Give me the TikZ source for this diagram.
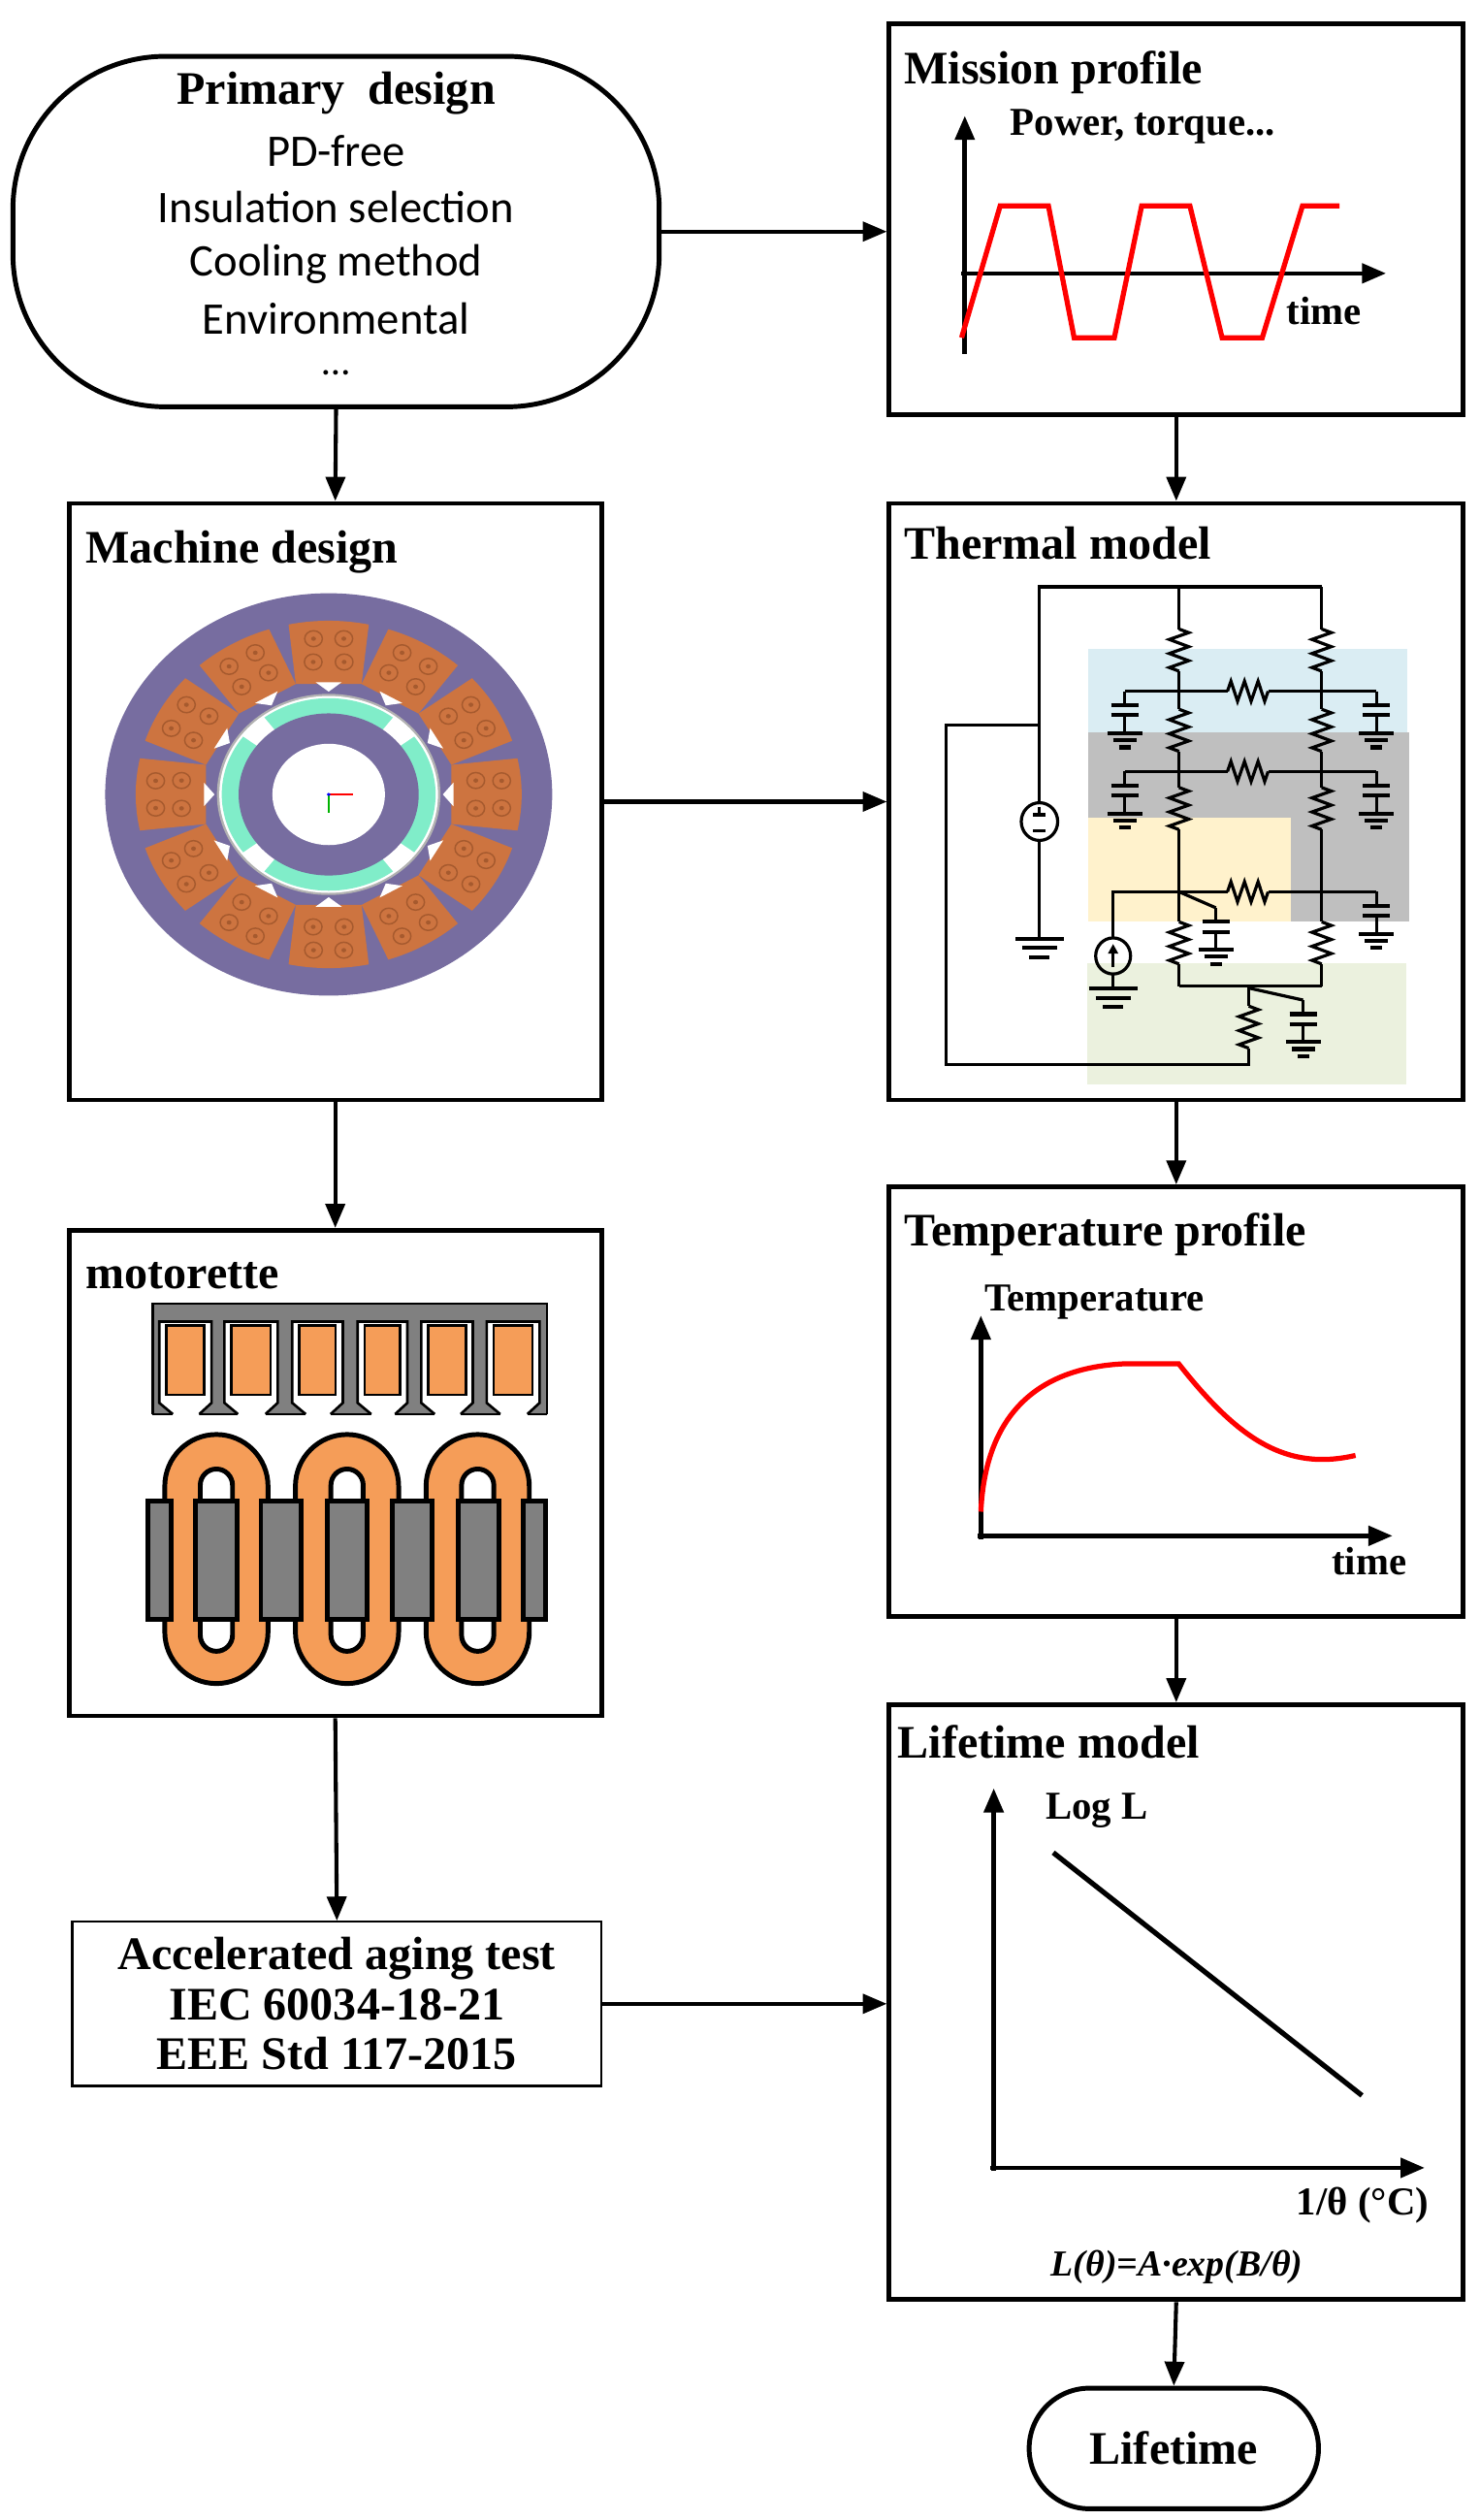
\documentclass[tikz,border=0pt]{standalone}
\usepackage{fontspec}
\setmainfont{Liberation Serif}
\newfontfamily\carl{Carlito}
\usetikzlibrary{arrows.meta}
\definecolor{purp}{HTML}{776DA0}
\definecolor{coil}{HTML}{CD7440}
\definecolor{coild}{HTML}{A65A2E}
\definecolor{teal}{HTML}{80EDC9}
\definecolor{morg}{HTML}{F59D58}
\definecolor{cblue}{HTML}{DAEDF3}
\definecolor{cgray}{HTML}{BFBFBF}
\definecolor{cyell}{HTML}{FFF2CC}
\definecolor{cgreen}{HTML}{EBF1DE}
\newcommand\vres[2]{\draw (#1,#2) -- ++(25,9) -- ++(-50,17) -- ++(50,18) -- ++(-50,17) -- ++(50,18) -- ++(-50,17) -- ++(25,9);}
\newcommand\hres[2]{\draw (#1,#2) -- ++(9,-25) -- ++(17,50) -- ++(18,-50) -- ++(17,50) -- ++(18,-50) -- ++(17,50) -- ++(9,-25);}
\newcommand\capg[2]{\begin{scope}[shift={(#1,#2)}]
\draw (0,0) -- (0,35) (0,60) -- (0,105);
\draw[line width=1.4pt] (-35,35) -- (35,35) (-35,60) -- (35,60);
\draw[line width=1.4pt] (-45,105) -- (45,105) (-30,122) -- (30,122) (-15,140) -- (15,140);
\end{scope}}
\newcommand\gndw[2]{\begin{scope}[shift={(#1,#2)}]
\draw[line width=1.4pt] (-62,0) -- (62,0) (-45,22) -- (45,22) (-26,45) -- (26,45);
\end{scope}}
\tikzset{
  box/.style={draw, line width=1.7pt, rectangle},
  arr/.style={line width=1.4pt, -{Triangle[length=0.3cm,width=0.24cm]}},
  ttl/.style={anchor=base west, font=\fontsize{16.5}{19}\selectfont\bfseries, inner sep=0},
  lbl/.style={anchor=base west, font=\fontsize{14}{16}\selectfont\bfseries, inner sep=0},
  ax/.style={line width=1.6pt, -{Triangle[length=0.3cm,width=0.24cm]}},
  red/.style={draw=red, line width=1.8pt},
}
\begin{document}
\begin{tikzpicture}[x=0.02cm,y=-0.02cm]
\useasboundingbox (0,0) rectangle (920,1567);
% boxes
\node[box, rounded corners=1.9cm, minimum width=8.04cm, minimum height=4.36cm] (prim) at (209,144) {};
\node[box, minimum width=7.14cm, minimum height=4.86cm] (mission) at (731.5,136.5) {};
\node[box, minimum width=6.62cm, minimum height=7.42cm] (machine) at (208.5,498.5) {};
\node[box, minimum width=7.14cm, minimum height=7.42cm] (thermal) at (731.5,498.5) {};
\node[box, minimum width=6.62cm, minimum height=6.04cm] (motor) at (208.5,916) {};
\node[box, minimum width=7.14cm, minimum height=5.34cm] (temp) at (731.5,871.5) {};
\node[box, minimum width=7.14cm, minimum height=7.4cm] (life) at (731.5,1245) {};
\node[draw, line width=0.8pt, minimum width=6.58cm, minimum height=2.04cm, align=center, font=\fontsize{16.5}{17.6}\selectfont\bfseries] (aging) at (209.5,1246) {Accelerated aging test\\IEC 60034-18-21\\EEE Std 117-2015};
\node[box, rounded corners=0.75cm, minimum width=3.6cm, minimum height=1.5cm, font=\fontsize{16.5}{19}\selectfont\bfseries] (lifetime) at (730,1522.5) {Lifetime};
% primary design texts
\node[font=\fontsize{16.5}{19}\selectfont\bfseries] (pt) at (209,58) {Primary\ \ design};
\node[font=\fontsize{16}{18}\selectfont\carl] (p1) at (209,94) {PD-free};
\node[font=\fontsize{16}{18}\selectfont\carl] (p2) at (209,129) {Insulation selection};
\node[font=\fontsize{16}{18}\selectfont\carl] (p3) at (209,164) {Cooling method};
\node[font=\fontsize{16}{18}\selectfont\carl] (p4) at (209,198) {Environmental};
\node[font=\fontsize{14}{16}\selectfont\carl, inner sep=0] (p5) at (209,232) {\dots};
% connectors
\draw[arr] (prim.east) -- (prim.east -| mission.west);
\draw[arr] (prim.south) -- (machine.north);
\draw[arr] (mission.south) -- (thermal.north);
\draw[arr] (machine.east) -- (thermal.west);
\draw[arr] (machine.south) -- (motor.north);
\draw[arr] (thermal.south) -- (temp.north);
\draw[arr] (temp.south) -- (life.north);
\draw[arr] (motor.south) -- (aging.north);
\draw[arr] (aging.east) -- (aging.east -| life.west);
\draw[arr] (life.south) -- (lifetime.north);
% titles
\node[ttl] (t1) at (562,52) {Mission profile};
\node[ttl] (t2) at (53,350) {Machine design};
\node[ttl] (t3) at (562,348) {Thermal model};
\node[ttl] (t4) at (53,801) {motorette};
\node[ttl] (t5) at (562,775) {Temperature profile};
\node[ttl] (t6) at (558,1093) {Lifetime model};
% mission graph
\coordinate (m0) at (600,220); \coordinate (m1) at (600,72);
\coordinate (m2) at (598,170); \coordinate (m3) at (862,170);
\draw[ax] (m0) -- (m1);
\draw[ax] (m2) -- (m3);
\draw[red] (598,210) -- (622,128) -- (652,128) -- (668,210) -- (693,210) -- (710,128) -- (740,128) -- (760,210) -- (785,210) -- (810,128) -- (833,128);
\node[lbl] (pw) at (628,84) {Power, torque...};
\node[lbl] (tm1) at (800,202) {time};
% temperature graph
\coordinate (tp0) at (610,957); \coordinate (tp1) at (610,818);
\coordinate (tp2) at (608,955); \coordinate (tp3) at (866,955);
\draw[ax] (tp0) -- (tp1);
\draw[ax] (tp2) -- (tp3);
\draw[red] (610,940) .. controls (613,875) and (650,850) .. (700,848) -- (733,848) .. controls (770,895) and (800,915) .. (843,905);
\node[lbl] (tt) at (612,815) {Temperature};
\node[lbl] (tm2) at (828,979) {time};
% lifetime graph
\coordinate (l0) at (618,1350); \coordinate (l1) at (618,1112);
\coordinate (l2) at (616,1348); \coordinate (l3) at (886,1348);
\draw[ax] (l0) -- (l1);
\draw[ax] (l2) -- (l3);
\draw[line width=1.8pt] (655,1152) -- (847,1303);
\node[lbl] (ll) at (650,1131) {Log L};
\node[lbl] (lx) at (806,1377) {1/θ (°C)};
\node[font=\fontsize{13}{15}\selectfont\bfseries\itshape] (lf) at (732,1410) {L(θ)=A·exp(B/θ)};
% machine drawing
\begin{scope}[shift={(204.4,494)}, x=0.02cm, y=-0.018cm]
\fill[purp] (0,0) circle[radius=139];
\foreach \t in {0,30,...,330}{
  \fill[coil] (\t-15:79) -- (\t-12:120) arc[start angle=\t-12, end angle=\t+12, radius=120] -- (\t+15:79) -- cycle;
  \foreach \r/\d in {92/-6,92/6,108/-5,108/5}{
    \draw[coild, line width=0.5pt] (\t+\d:\r) circle[radius=5.5];
    \fill[coild] (\t+\d:\r) circle[radius=1.5];
  }
  \fill[white] (\t-6:78) -- (\t+6:78) -- (\t:71) -- cycle;
}
\fill[gray!60] (0,0) circle[radius=69.5];
\fill[white] (0,0) circle[radius=68];
\fill[teal] (0,0) circle[radius=66.5];
\foreach \t in {45,135,225,315}{
  \fill[white] (\t-8:55) -- (\t-8:67) arc[start angle=\t-8, end angle=\t+8, radius=67] -- (\t+8:55) -- cycle;
}
\fill[purp] (0,0) circle[radius=56];
\fill[white] (0,0) circle[radius=35];
\draw[green!70!black, line width=0.6pt] (0,0) -- (0,13);
\draw[red, line width=0.6pt] (0,0) -- (15,0);
\fill[blue] (0,0) circle[radius=1.2];
\end{scope}
% thermal circuit
\begin{scope}[shift={(542.8,302.6)}, x=0.004824cm, y=-0.00499cm, line width=1.1pt]
\fill[cblue] (555,405) rectangle (1380,612);
\fill[cgray] (555,612) rectangle (1385,1085);
\fill[cyell] (555,825) rectangle (1078,1085);
\fill[cgreen] (552,1188) rectangle (1377,1490);
\draw (430,790) -- (430,250) -- (1158,250);
\foreach \x in {790,1158}{
  \draw (\x,250) -- (\x,355) (\x,460) -- (\x,555) (\x,660) -- (\x,750) (\x,855) -- (\x,1085) (\x,1190) -- (\x,1245);
  \vres{\x}{355} \vres{\x}{555} \vres{\x}{750} \vres{\x}{1085}
}
\draw (790,1245) -- (1158,1245);
\foreach \y in {510,710}{
  \draw (650,\y) -- (915,\y) (1020,\y) -- (1300,\y);
  \hres{915}{\y}
  \capg{650}{\y} \capg{1300}{\y}
}
\draw (620,1125) -- (620,1010) -- (915,1010) (1020,1010) -- (1300,1010);
\hres{915}{1010}
\capg{1300}{1010}
\draw (790,1010) -- (885,1050);
\capg{885}{1050}
\draw (970,1245) -- (970,1295) (970,1400) -- (970,1440) -- (190,1440) -- (190,595) -- (430,595);
\vres{970}{1295}
\draw (970,1250) -- (1110,1280);
\capg{1110}{1280}
% voltage source
\draw (430,835) circle[radius=47];
\draw (430,882) -- (430,1125);
\draw (430,798) -- (430,818) (414,818) -- (446,818) (414,858) -- (446,858);
\gndw{430}{1128}
% current source
\draw (620,1170) circle[radius=45];
\draw (620,1215) -- (620,1250);
\draw[-{Triangle[length=0.12cm,width=0.12cm]}] (620,1198) -- (620,1140);
\gndw{620}{1252}
\end{scope}
% motorette
\begin{scope}[shift={(78.4,796.1)}, x=0.00402cm, y=-0.00402cm]
\fill[gray] (82,72) rectangle (1305,415);
\draw[line width=0.9pt] (82,415) -- (82,72) -- (1305,72) -- (1305,415);
\draw[line width=0.9pt] (82,415) -- (145,415) (227,415) -- (347,415) (432,415) -- (557,415) (634,415) -- (760,415) (834,415) -- (957,415) (1037,415) -- (1160,415) (1244,415) -- (1305,415);
\foreach \a/\b in {103/265,305/470,515/672,718/872,915/1075,1118/1282}{
  \fill[white] (\a+42,416) -- (\a,380) -- (\a,128) -- (\b,128) -- (\b,380) -- (\b-38,416) -- cycle;
  \draw[line width=0.9pt] (\a+42,415) -- (\a,380) -- (\a,128) -- (\b,128) -- (\b,380) -- (\b-38,415);
  \draw[line width=0.9pt, fill=morg] (\a+22,140) rectangle (\b-22,355);
}
\foreach \c in {280,685,1090}{
  \filldraw[fill=morg, line width=1.7pt, even odd rule]
    [rounded corners=0.643cm] (\c-160,478) rectangle (\c+160,1250)
    [rounded corners=0.201cm] (\c-50,585) rectangle (\c+50,1150);
}
\foreach \a/\b in {68/140,215/343,418/543,625/748,825/950,1030/1157,1230/1300}{
  \draw[fill=gray, line width=1.7pt] (\a,685) rectangle (\b,1052);
}
\end{scope}
\end{tikzpicture}
\end{document}
